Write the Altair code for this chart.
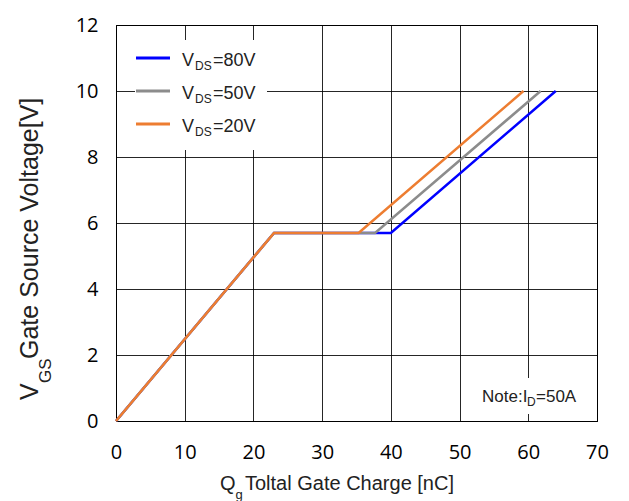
import altair as alt
import pandas as pd

# ---- data ----
series = ["VDS=80V", "VDS=50V", "VDS=20V"]
colors = ["#0000FF", "#8C8C8C", "#ED7D31"]
q_80 = [0, 23, 40, 64]
q_50 = [0, 23, 37.7, 61.8]
q_20 = [0, 23, 35.3, 59.3]
vgs = [0, 5.7, 5.7, 10]
x_ticks = [0, 10, 20, 30, 40, 50, 60, 70]
y_ticks = [0, 2, 4, 6, 8, 10, 12]
legend_nums = ["80V", "50V", "20V"]

rows = []
for s, qs in zip(series, [q_80, q_50, q_20]):
    for i, (q, v) in enumerate(zip(qs, vgs)):
        rows.append({"series": s, "q": q, "v": v, "idx": i})
df = pd.DataFrame(rows)

W, H = 481, 396
LEFT, TOP = 116, 25

xscale = alt.Scale(domain=[0, 70], nice=False, zero=False)
yscale = alt.Scale(domain=[0, 12], nice=False, zero=False)
cscale = alt.Scale(domain=series, range=colors)

axis_common = dict(
    grid=True, gridColor="#000000", gridWidth=1, gridOpacity=0.85,
    domain=True, domainColor="#000000", domainWidth=1,
    ticks=False, labelFont="Open Sans", labelFontSize=20, labelColor="#000000",
    labelFlush=False, labelOverlap=False, title=None,
)
xaxis = alt.Axis(values=x_ticks, labelPadding=21, **axis_common)
yaxis = alt.Axis(values=y_ticks, labelPadding=18, **axis_common)

base = alt.Chart(df)
layers = []
for k, s in enumerate(series):
    enc = dict(
        x=alt.X("q:Q", scale=xscale, axis=xaxis),
        y=alt.Y("v:Q", scale=yscale, axis=yaxis),
        color=alt.Color("series:N", scale=cscale, legend=None),
        order="idx:O",
    )
    layers.append(base.transform_filter(alt.datum.series == s)
                  .mark_line(strokeWidth=2.5, strokeJoin="miter").encode(**enc))

one = pd.DataFrame({"a": [0]})
TF = "Liberation Sans"

# legend box
legend_box = alt.Chart(one).mark_rect(fill="white").encode(
    x=alt.value(19), x2=alt.value(151), y=alt.value(15), y2=alt.value(125))

leg_layers = [legend_box]
for i, (s, c, num) in enumerate(zip(series, colors, legend_nums)):
    yy = 33 + 33 * i
    leg_layers.append(alt.Chart(one).mark_rule(color=c, strokeWidth=3).encode(
        x=alt.value(20), x2=alt.value(54), y=alt.value(yy)))
    for txt, dx, dy, fs in [("V", 0, 0, 18), ("DS", 13, 4, 12), ("=" + num, 31, 0, 18)]:
        leg_layers.append(alt.Chart(one).mark_text(
            text=txt, align="left", baseline="alphabetic", font=TF, fontSize=fs,
            dx=dx, dy=dy, color="#222222").encode(x=alt.value(66), y=alt.value(yy + 8)))

# note box
note_layers = [alt.Chart(one).mark_rect(fill="white").encode(
    x=alt.value(354), x2=alt.value(480), y=alt.value(353), y2=alt.value(389))]
for txt, dx, dy, fs in [("Note:I", 0, 0, 17), ("D", 45, 4, 12), ("=50A", 54, 0, 17)]:
    note_layers.append(alt.Chart(one).mark_text(
        text=txt, align="left", baseline="alphabetic", font=TF, fontSize=fs,
        dx=dx, dy=dy, color="#222222").encode(x=alt.value(366), y=alt.value(377)))

# x title
xt_layers = []
for txt, dx, dy, fs in [("Q", 0, 0, 20), ("g", 15.5, 9, 13), ("Toltal Gate Charge [nC]", 25, 0, 20)]:
    xt_layers.append(alt.Chart(one).mark_text(
        text=txt, align="left", baseline="alphabetic", font=TF, fontSize=fs,
        dx=dx, dy=dy, color="#222222").encode(x=alt.value(104), y=alt.value(465)))

# y title
yt_layers = []
for txt, dx, dy, fs in [("V", 0, 0, 25), ("GS", 17, 13, 17), (" Gate Source Voltage[V]", 41, 0, 25)]:
    yt_layers.append(alt.Chart(one).mark_text(
        text=txt, align="left", baseline="alphabetic", font=TF, fontSize=fs, angle=270,
        dx=dx, dy=dy, color="#222222").encode(x=alt.value(-78.5), y=alt.value(375)))

chart = alt.layer(*layers, *leg_layers, *note_layers, *xt_layers, *yt_layers).properties(
    width=W, height=H,
    autosize=alt.AutoSizeParams(type="none"),
    padding={"left": LEFT, "top": TOP, "right": 629 - LEFT - W, "bottom": 501 - TOP - H},
    background="white",
).configure_view(stroke="#000000", strokeWidth=1)

chart.save("out.html", embed_options={"renderer": "svg", "actions": False})
